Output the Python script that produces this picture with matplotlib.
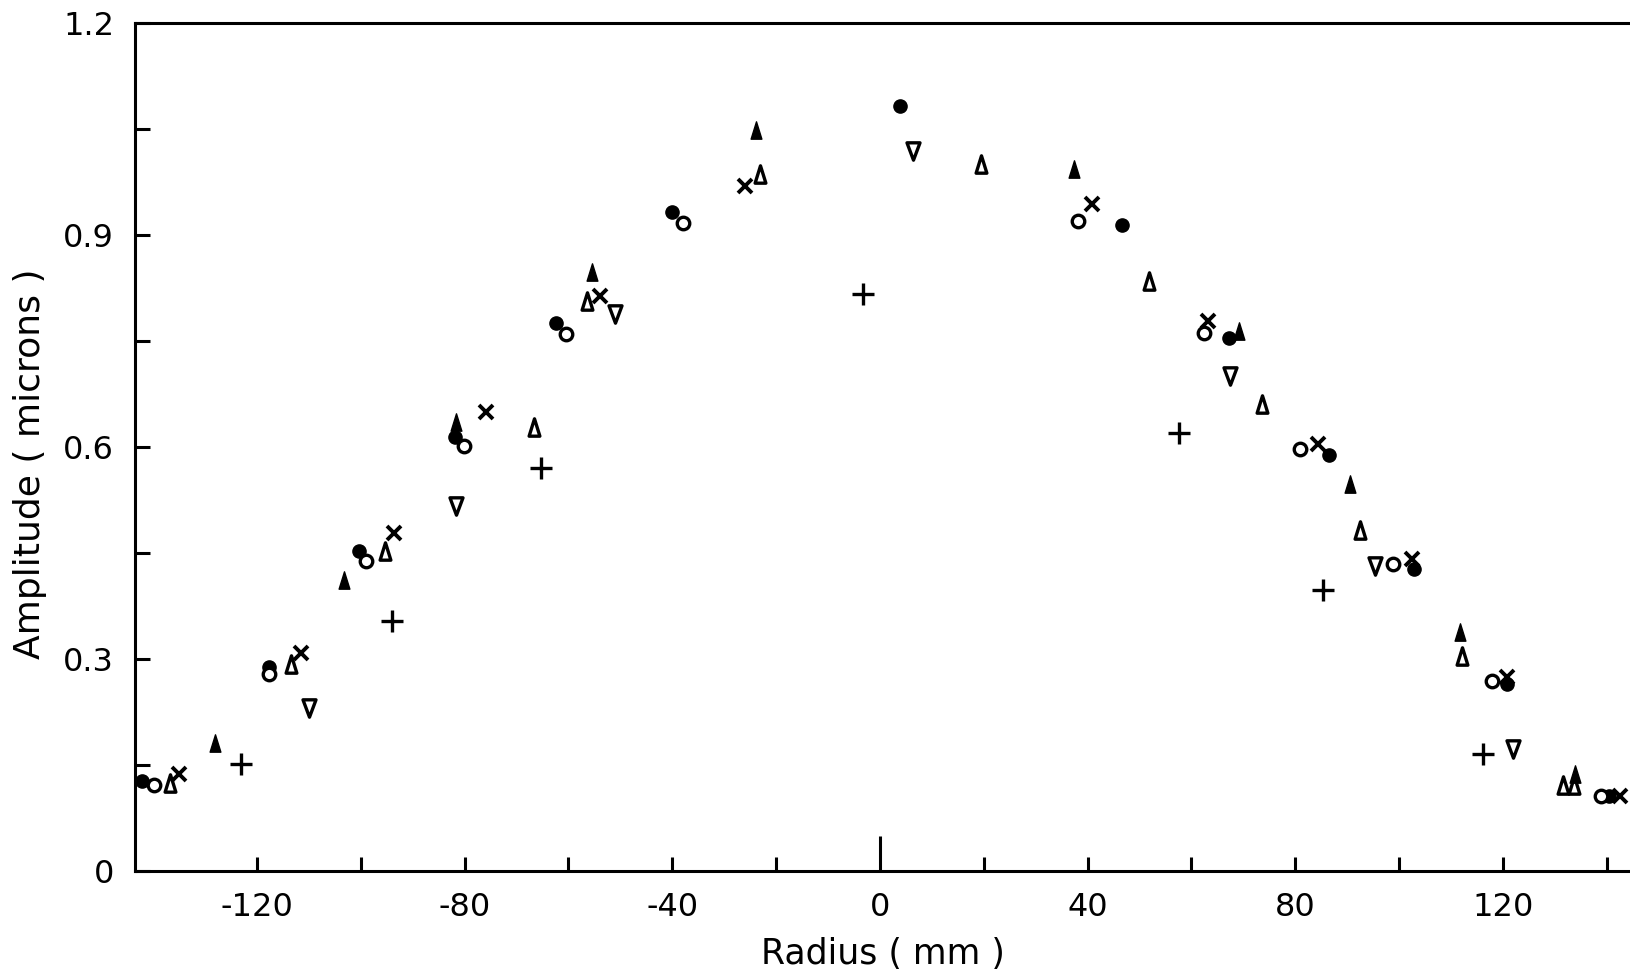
import matplotlib
matplotlib.use("Agg")
import matplotlib.pyplot as plt
from matplotlib.path import Path

plt.rcParams['font.family'] = ['DejaVu Sans']
plt.rcParams['axes.unicode_minus'] = False

# ---- data (Radius in mm, Amplitude in microns) ----
filled_circle_x = [-142.1, -117.7, -100.4, -81.8, -62.4, -40.0, 3.9, 46.6, 67.2, 86.6, 102.8, 120.9, 140.5]
filled_circle_y = [0.128, 0.288, 0.453, 0.614, 0.776, 0.932, 1.083, 0.914, 0.754, 0.589, 0.428, 0.265, 0.106]

open_circle_x = [-139.9, -117.7, -99.0, -80.2, -60.4, -38.0, 38.2, 62.4, 81.0, 98.8, 117.9, 138.9]
open_circle_y = [0.122, 0.279, 0.438, 0.601, 0.760, 0.917, 0.920, 0.761, 0.597, 0.435, 0.269, 0.106]

open_tri_x = [-136.7, -113.5, -95.4, -66.6, -56.4, -23.1, 19.5, 51.8, 73.6, 92.4, 112.1, 131.5, 133.7]
open_tri_y = [0.125, 0.293, 0.453, 0.629, 0.806, 0.986, 1.000, 0.835, 0.661, 0.482, 0.304, 0.122, 0.122]

filled_tri_x = [-128.1, -103.2, -81.6, -55.4, -23.9, 37.4, 69.2, 90.6, 111.7, 133.9]
filled_tri_y = [0.181, 0.412, 0.635, 0.847, 1.048, 0.994, 0.764, 0.547, 0.338, 0.137]

cross_x = [-135.1, -111.5, -93.6, -75.8, -54.0, -26.0, 40.8, 63.2, 84.4, 102.6, 120.9, 142.5]
cross_y = [0.137, 0.309, 0.478, 0.650, 0.814, 0.970, 0.944, 0.778, 0.604, 0.441, 0.275, 0.106]

down_tri_x = [-109.9, -81.6, -51.0, 6.3, 67.4, 95.4, 121.9]
down_tri_y = [0.231, 0.516, 0.788, 1.019, 0.701, 0.431, 0.173]

plus_x = [-123.1, -94.0, -65.2, -3.3, 57.6, 85.4, 116.1]
plus_y = [0.151, 0.354, 0.570, 0.817, 0.620, 0.398, 0.165]

x_ticks = list(range(-120, 141, 20))
x_tick_labels = ['-120', '', '-80', '', '-40', '', '0', '', '40', '', '80', '', '120', '']
y_ticks = [0, 0.15, 0.3, 0.45, 0.6, 0.75, 0.9, 1.05, 1.2]
y_tick_labels = ['0', '', '0.3', '', '0.6', '', '0.9', '', '1.2']

# ---- figure ----
fig = plt.figure(figsize=(16.3, 9.75), dpi=100)
ax = fig.add_axes([135 / 1630, 1 - 871 / 975, 1 - 135 / 1630, (871 - 23) / 975])

up_tri = Path([(0, 1), (-0.62, -1), (0.62, -1), (0, 1)], closed=True)
dn_tri = Path([(0, -1), (-0.75, 1), (0.75, 1), (0, -1)], closed=True)

k = 'black'
ax.plot(filled_circle_x, filled_circle_y, ls='none', marker='o', ms=9.5, mfc=k, mec=k, zorder=3)
ax.plot(open_circle_x, open_circle_y, ls='none', marker='o', ms=9, mfc='white', mec=k, mew=2.4, zorder=3)
ax.plot(open_tri_x, open_tri_y, ls='none', marker=up_tri, ms=12.5, mfc='white', mec=k, mew=2.4, zorder=3)
ax.plot(filled_tri_x, filled_tri_y, ls='none', marker=up_tri, ms=12.5, mfc=k, mec=k, mew=1, zorder=4)
ax.plot(cross_x, cross_y, ls='none', marker='x', ms=10, mec=k, mew=2.8, zorder=3)
ax.plot(down_tri_x, down_tri_y, ls='none', marker=dn_tri, ms=12.5, mfc='white', mec=k, mew=2.4, zorder=3)
ax.plot(plus_x, plus_y, ls='none', marker='+', ms=16, mec=k, mew=2.4, zorder=3)

ax.set_xlim(-143.5, 144.5)
ax.set_ylim(0, 1.2)

ax.set_xticks(x_ticks)
ax.set_xticklabels(x_tick_labels)
ax.set_yticks(y_ticks)
ax.set_yticklabels(y_tick_labels)

ax.tick_params(axis='x', direction='in', length=10, width=2.2, pad=15, labelsize=23)
ax.tick_params(axis='y', direction='in', length=11, width=2.2, pad=15, labelsize=23)
# longer tick at 0
for t, v in zip(ax.xaxis.get_major_ticks(), x_ticks):
    if v == 0:
        t.tick1line.set_markersize(25)

for side in ['left', 'bottom', 'top']:
    ax.spines[side].set_linewidth(2.2)
ax.spines['right'].set_visible(False)

ax.set_xlabel('Radius ( mm )', fontsize=25, labelpad=10)
ax.set_ylabel('Amplitude ( microns )', fontsize=26)
ax.yaxis.set_label_coords(-0.059, 0.48)

fig.savefig('out.png', dpi=100)
